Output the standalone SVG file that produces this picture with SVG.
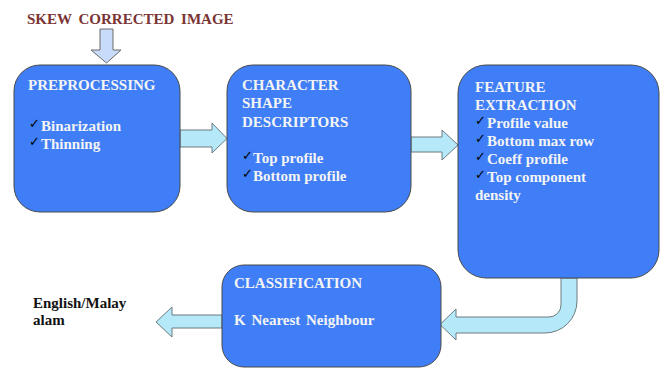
<svg xmlns="http://www.w3.org/2000/svg" width="665" height="368" viewBox="0 0 665 368">
<style>
.box{fill:#3f7ef6;stroke:#4a4a4a;stroke-width:1}
.arr{fill:#b5e9fa;stroke:#6a7a80;stroke-width:1;stroke-linejoin:miter}
.down{fill:#c8dbfa;stroke:#6a6a6a;stroke-width:1}
.t{font-family:'Liberation Serif','Times New Roman',Times,'DejaVu Serif',serif;font-weight:700;font-size:15px;fill:#f4f4f4}
.ck{font-family:'DejaVu Sans',sans-serif;font-size:13px;fill:#000}
.lbl{font-family:'Liberation Serif','Times New Roman',Times,'DejaVu Serif',serif;font-weight:700;font-size:15px;fill:#111}
.title{font-family:'Liberation Serif','Times New Roman',Times,'DejaVu Serif',serif;font-weight:700;font-size:15px;fill:#7a3434}
</style>
<rect width="665" height="368" fill="#ffffff"/>
<g id="connectors">
<path class="down" d="M100,29 L113,29 L113,50 L121,50 L106.5,63 L91,50 L100,50 Z"/>
<path class="arr" d="M180,130 L212,130 L212,123 L227,138.5 L212,153 L212,147 L180,147 Z"/>
<path class="arr" d="M411,137 L442,137 L442,130 L458,145 L442,160 L442,152 L411,152 Z"/>
<path class="arr" d="M561,278 L561,305 A12,12 0 0 1 549,317 L456,317 L456,309 L440,324.5 L456,340 L456,333 L545,333 A32,32 0 0 0 577,301 L577,278 Z"/>
<path class="arr" d="M222,315 L172,315 L172,307 L156,322 L172,337 L172,328 L222,328 Z"/>
</g>
<g id="title">
<text class="title" x="27" y="24" word-spacing="3">SKEW CORRECTED IMAGE</text>
</g>
<g id="preprocessing">
<rect class="box" x="14" y="65" width="166" height="147" rx="26"/>
<text class="t" x="28" y="90">PREPROCESSING</text>
<text class="ck" x="29" y="128">✓</text><text class="t" x="41" y="131">Binarization</text>
<text class="ck" x="29" y="146">✓</text><text class="t" x="41" y="149">Thinning</text>
</g>
<g id="shape-descriptors">
<rect class="box" x="227" y="65" width="184" height="147" rx="26"/>
<text class="t" x="242" y="90">CHARACTER</text>
<text class="t" x="242" y="108">SHAPE</text>
<text class="t" x="242" y="127">DESCRIPTORS</text>
<text class="ck" x="242" y="160">✓</text><text class="t" x="253" y="163">Top profile</text>
<text class="ck" x="242" y="178">✓</text><text class="t" x="253" y="181">Bottom profile</text>
</g>
<g id="feature-extraction">
<rect class="box" x="458" y="65" width="201" height="213" rx="28"/>
<text class="t" x="475" y="92">FEATURE</text>
<text class="t" x="475" y="110">EXTRACTION</text>
<text class="ck" x="475" y="125">✓</text><text class="t" x="487" y="128">Profile value</text>
<text class="ck" x="475" y="143">✓</text><text class="t" x="487" y="146">Bottom max row</text>
<text class="ck" x="475" y="161">✓</text><text class="t" x="487" y="164">Coeff profile</text>
<text class="ck" x="475" y="179">✓</text><text class="t" x="487" y="182">Top component</text>
<text class="t" x="475" y="200">density</text>
</g>
<g id="classification">
<rect class="box" x="222" y="265" width="219" height="102" rx="22"/>
<text class="t" x="234" y="288">CLASSIFICATION</text>
<text class="t" x="234" y="325" word-spacing="2">K Nearest Neighbour</text>
</g>
<g id="output">
<text class="lbl" x="33" y="308">English/Malay</text>
<text class="lbl" x="33" y="325">alam</text>
</g>
</svg>
